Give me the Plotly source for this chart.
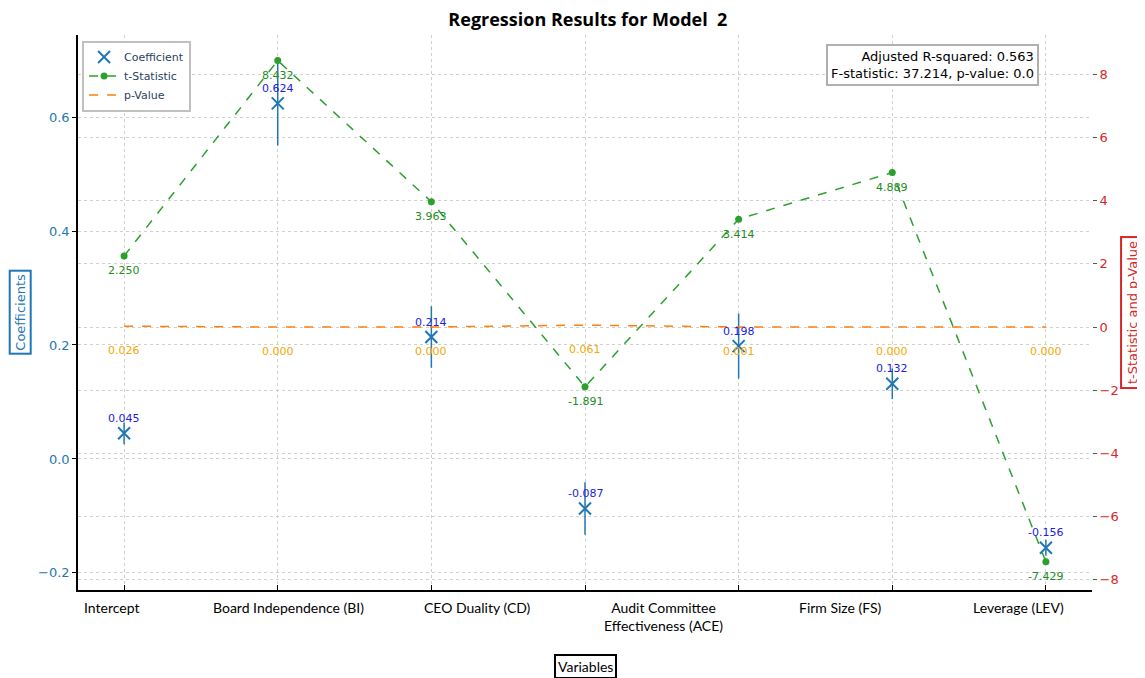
import plotly.graph_objects as go

# Seven plotted positions; six x-axis labels (the reference prints them offset from the ticks)
var_labels = ["Intercept", "Board Independence (BI)", "CEO Duality (CD)",
              "Audit Committee<br>Effectiveness (ACE)", "Firm Size (FS)", "Leverage (LEV)"]
label_pos = [-0.08, 1.07, 2.30, 3.51, 4.66, 5.82]

coefficients = [0.045, 0.624, 0.214, -0.087, 0.198, 0.132, -0.156]
std_errors = [0.019, 0.074, 0.054, 0.046, 0.057, 0.027, 0.014]
t_stats = [2.250, 8.432, 3.963, -1.891, 3.414, 4.889, -7.429]
p_values = [0.026, 0.000, 0.000, 0.061, 0.001, 0.000, 0.000]

x = list(range(len(coefficients)))

fig = go.Figure()

fig.add_trace(go.Scatter(
    x=x, y=coefficients, mode="markers", name="Coefficient",
    marker=dict(symbol="x-thin", size=12, color="#1f77b4",
                line=dict(width=2, color="#1f77b4")),
    error_y=dict(type="data", array=std_errors, visible=True,
                 color="#1f77b4", thickness=1.5, width=0),
    yaxis="y"))

fig.add_trace(go.Scatter(
    x=x, y=t_stats, mode="lines+markers", name="t-Statistic",
    line=dict(color="#2ca02c", dash="dash", width=1.5),
    marker=dict(symbol="circle", size=7, color="#2ca02c"),
    yaxis="y2"))

fig.add_trace(go.Scatter(
    x=x, y=p_values, mode="lines", name="p-Value",
    line=dict(color="#ff7f0e", dash="dash", width=1.5),
    yaxis="y2"))

ann = []
for i in x:
    ann.append(dict(x=i, y=coefficients[i], xref="x", yref="y",
                    text=f"{coefficients[i]:.3f}", showarrow=False,
                    yshift=15, font=dict(color="#2222dd", size=11, family="DejaVu Sans")))
    ann.append(dict(x=i, y=t_stats[i], xref="x", yref="y2",
                    text=f"{t_stats[i]:.3f}", showarrow=False,
                    yshift=-15, font=dict(color="#228b22", size=11, family="DejaVu Sans")))
    ann.append(dict(x=i, y=p_values[i], xref="x", yref="y2",
                    text=f"{p_values[i]:.3f}", showarrow=False,
                    yshift=-24, font=dict(color="#f5a800", size=11, family="DejaVu Sans")))

for lbl, pos in zip(var_labels, label_pos):
    ann.append(dict(x=pos, y=-0.013, xref="x", yref="paper", text=lbl,
                    showarrow=False, xanchor="center", yanchor="top", align="center",
                    font=dict(color="black", size=14, family="Lato")))

# axis titles with boxes
ann.append(dict(x=-0.057, y=0.5, xref="paper", yref="paper", text="Coefficients",
                textangle=-90, showarrow=False, bordercolor="#1f77b4", borderwidth=2,
                borderpad=2, xanchor="center",
                font=dict(color="#1f77b4", size=13, family="DejaVu Sans")))
ann.append(dict(x=1.040, y=0.5, xref="paper", yref="paper", text="t-Statistic and p-Value",
                textangle=-90, showarrow=False, bordercolor="#d62728", borderwidth=2,
                borderpad=3, xanchor="center",
                font=dict(color="#d62728", size=13, family="DejaVu Sans")))
ann.append(dict(x=0.5, y=-0.137, xref="paper", yref="paper", text="Variables",
                showarrow=False, bordercolor="black", borderwidth=2, borderpad=2,
                xanchor="center", yanchor="middle",
                font=dict(color="black", size=14, family="Lato")))
ann.append(dict(x=0.948, y=0.983, xref="paper", yref="paper",
                text="Adjusted R-squared: 0.563<br>F-statistic: 37.214, p-value: 0.0",
                align="right", showarrow=False, bordercolor="#b0b0b0", borderwidth=2,
                borderpad=3, bgcolor="white", xanchor="right", yanchor="top",
                font=dict(color="black", size=13, family="DejaVu Sans")))

fig.update_layout(
    width=1137, height=670,
    margin=dict(l=70, r=53, t=27, b=88, autoexpand=False),
    paper_bgcolor="white", plot_bgcolor="white",
    title=dict(text="<b>Regression Results for Model  2</b>", x=0.510, y=0.982,
               xanchor="center", yanchor="middle",
               font=dict(size=18, family="Open Sans", color="black")),
    showlegend=True,
    legend=dict(x=0.004, y=0.99, xanchor="left", yanchor="top",
                bordercolor="#c0c0c0", borderwidth=2, bgcolor="white",
                font=dict(size=11, family="DejaVu Sans"), tracegroupgap=0,
                itemwidth=30),
    xaxis=dict(range=[-0.3, 6.3], tickmode="array", tickvals=x,
               ticktext=[""] * len(x), automargin=False,
               showgrid=True, gridcolor="#d0d0d0", griddash="dot", gridwidth=1,
               showline=True, linecolor="black", linewidth=1.5,
               ticks="inside", ticklen=5, tickcolor="black",
               zeroline=False),
    yaxis=dict(range=[-0.23, 0.744], tickvals=[-0.2, 0.0, 0.2, 0.4, 0.6],
               ticktext=["\u22120.2", "0.0", "0.2", "0.4", "0.6"], automargin=False,
               showgrid=True, gridcolor="#d0d0d0", griddash="dot", gridwidth=1,
               showline=True, linecolor="black", linewidth=1.5,
               ticks="outside", ticklen=4, tickcolor="black",
               tickfont=dict(size=13, family="DejaVu Sans", color="#1f77b4"),
               zeroline=False),
    yaxis2=dict(range=[-8.32, 9.24], overlaying="y", side="right", automargin=False,
                tickvals=[-8, -6, -4, -2, 0, 2, 4, 6, 8],
                ticktext=["\u22128", "\u22126", "\u22124", "\u22122", "0", "2", "4", "6", "8"],
                showgrid=True, gridcolor="#d0d0d0", griddash="dot", gridwidth=1,
                showline=False, ticks="outside", ticklen=4, tickcolor="#555",
                tickfont=dict(size=13, family="DejaVu Sans", color="#d62728"),
                zeroline=False),
    annotations=ann,
)

fig.write_html("out.html")
